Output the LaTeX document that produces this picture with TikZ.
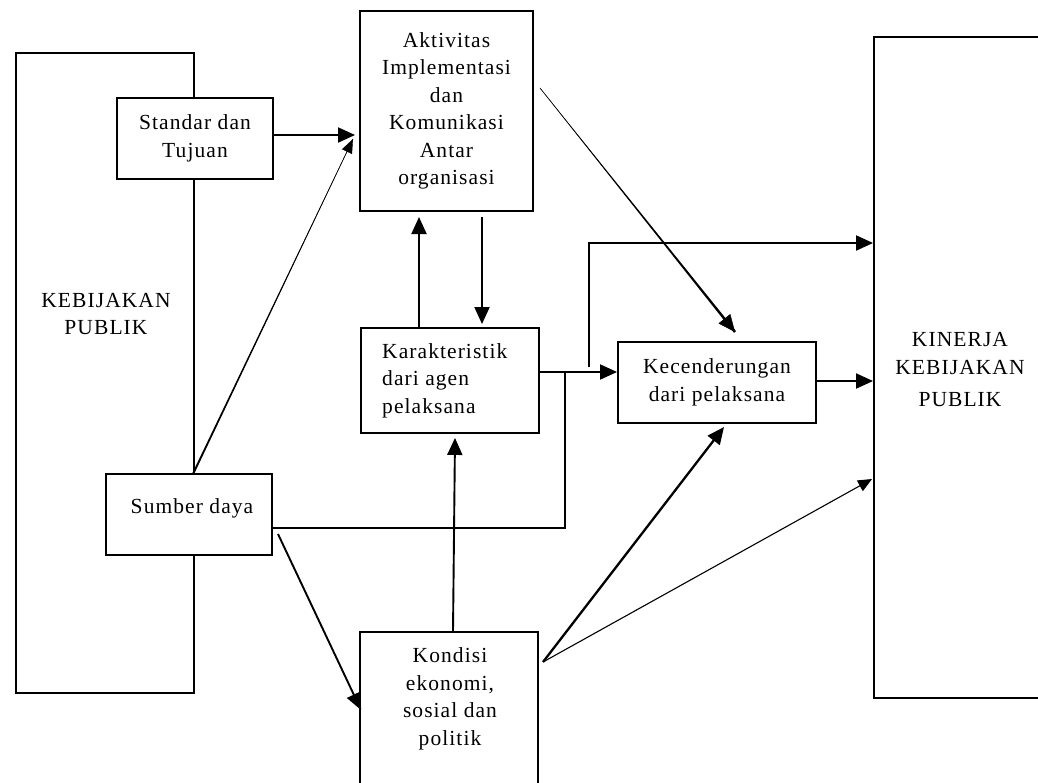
\documentclass[tikz,border=0pt]{standalone}
\usepackage{fontspec}
\setmainfont[LetterSpace=5]{Liberation Serif}
\usetikzlibrary{arrows.meta,calc}
\begin{document}
\begin{tikzpicture}[x=1pt,y=-1pt,
  box/.style={draw, line width=1.9pt, fill=white, inner sep=0pt},
  lbl/.style={font=\fontsize{21.5}{27.5}\selectfont, align=center, inner sep=0pt},
  conn/.style={line width=1.9pt},
  arr/.style={conn, -{Triangle[length=17pt,width=15pt]}},
  tarr/.style={line width=1.1pt, -{Triangle[length=14pt,width=12pt]}},
]
\useasboundingbox (0,0) rectangle (1038,782);
\begin{scope}
\clip (0,0) rectangle (1038,782);
% boxes
\node[box, minimum width=178pt, minimum height=640pt] (kp) at (105,373) {};
\node[lbl] (kptext) at (106,314) {KEBIJAKAN\\PUBLIK};
\node[box, minimum width=156pt, minimum height=81pt, lbl] (std) at (195,138.5) {Standar dan\\Tujuan};
\node[box, minimum width=173pt, minimum height=200pt, lbl] (akt) at (446.5,111) {Aktivitas\\Implementasi\\dan\\Komunikasi\\Antar\\organisasi};
\node[box, minimum width=178pt, minimum height=105pt] (kar) at (450,380.5) {};
\node[lbl, align=left, anchor=west] (kartext) at (382,380.5) {Karakteristik\\dari agen\\pelaksana};
\node[box, minimum width=198pt, minimum height=81pt, lbl] (kec) at (717,382.5) {Kecenderungan\\dari pelaksana};
\node[box, minimum width=166pt, minimum height=81pt] (sum) at (189,514.5) {};
\node[lbl] (sumtext) at (192,508) {Sumber daya};
\node[box, minimum width=178pt, minimum height=198pt] (kon) at (449,731) {};
\node[lbl] (kontext) at (450,699) {Kondisi\\ekonomi,\\sosial dan\\politik};
\node[box, minimum width=226pt, minimum height=661pt] (kin) at (987,367.5) {};
\node[lbl] (kintext) at (960,370) {KINERJA\\KEBIJAKAN\\[5pt]PUBLIK};
% connector points
\coordinate (s1) at (193,474);
\coordinate (a1) at (353,139);
\coordinate (a2) at (540,88);
\coordinate (k2) at (735,332);
\coordinate (j1) at (589,367);
\coordinate (j2) at (565,372);
\coordinate (s2) at (278,534);
\coordinate (kd) at (543,662);
% connectors
\draw[arr] (std.east |- 0,135) -- ($(akt.west |- 0,135)+(-4,0)$);
\fill ($(s1)!1pt!90:(a1)$) -- ($(s1)!1pt!-90:(a1)$) -- ($(a1)!0.25pt!90:(s1)$) -- ($(a1)!0.25pt!-90:(s1)$) -- cycle;
\draw[line width=0.4pt, -{Triangle[length=14pt,width=11pt]}] (s1) -- (a1);
\draw[arr] (kar.north -| 419,0) -- (419,217);
\draw[arr] (482,217) -- ($(kar.north -| 482,0)+(0,-3)$);
\fill ($(a2)!0.2pt!90:(k2)$) -- ($(a2)!0.2pt!-90:(k2)$) -- ($(k2)!1.3pt!90:(a2)$) -- ($(k2)!1.3pt!-90:(a2)$) -- cycle;
\draw[line width=0.4pt, -{Triangle[length=17pt,width=15pt]}] (a2) -- (k2);
\draw[arr] (kar.east |- 0,372) -- (kec.west |- 0,372);
\draw[arr] (j1) |- (kin.west |- 0,243);
\draw[arr] (kec.east |- 0,381) -- (kin.west |- 0,381);
\draw[conn] (sum.east |- 0,528) -| (j2);
\draw[arr] (s2) -- ($(kon.west |- 0,710)+(2,0)$);
\draw[arr] (kon.north -| 453,0) -- ($(kar.south -| 455,0)+(0,4)$);
\draw[line width=2.3pt, -{Triangle[length=17pt,width=15pt]}] (kd) -- (724,427);
\draw[tarr] (kd) -- ($(kin.west |- 0,479)+(-1,0)$);
\end{scope}
\end{tikzpicture}
\end{document}
